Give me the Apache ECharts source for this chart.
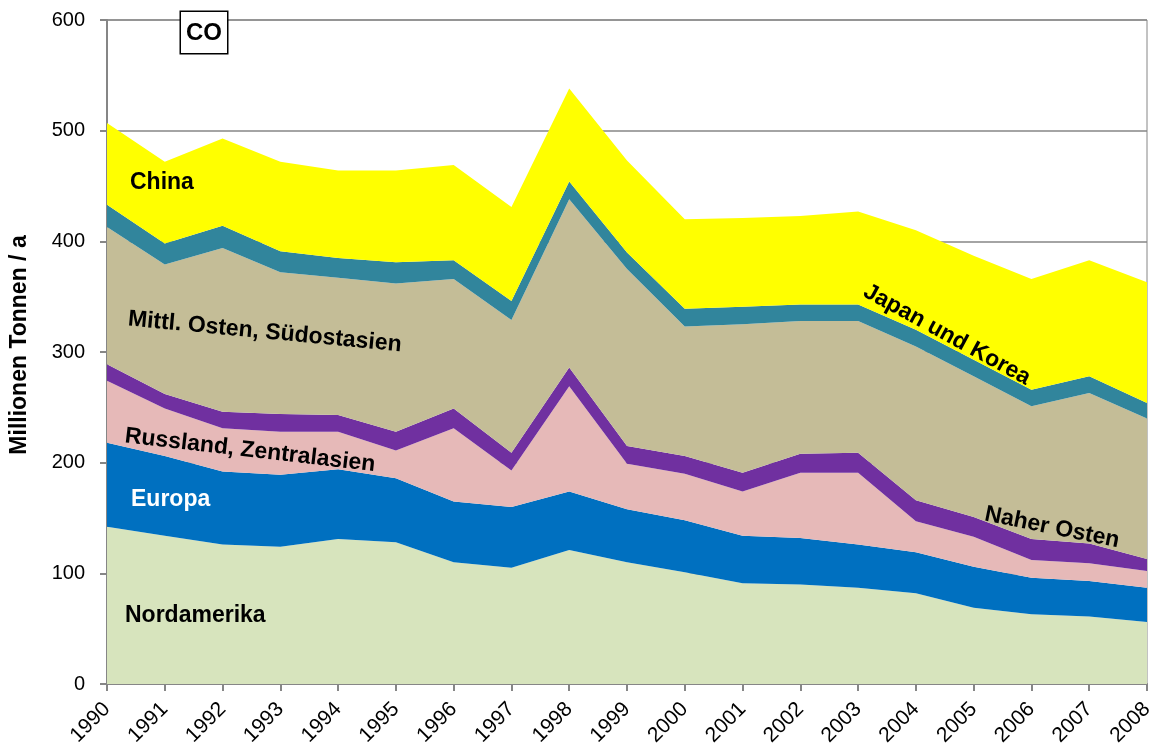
<!DOCTYPE html>
<html>
<head>
<meta charset="utf-8">
<script src="https://cdn.jsdelivr.net/npm/echarts@6/dist/echarts.min.js"></script>
<style>
  html, body { margin: 0; padding: 0; background: #fff; }
  #chart { width: 1152px; height: 749px; }
</style>
</head>
<body>
<div id="chart"></div>
<script>
// CO emissions by region, million tonnes per year
const years = ['1990', '1991', '1992', '1993', '1994', '1995', '1996', '1997', '1998', '1999',
  '2000', '2001', '2002', '2003', '2004', '2005', '2006', '2007', '2008'];
const nordamerika = [142, 134, 126, 124, 131, 128, 110, 105, 121, 110, 101, 91, 90, 87, 82, 69, 63, 61, 56];
const europa = [76, 72, 66, 65, 63, 58, 55, 55, 53, 48, 47, 43, 42, 39, 37, 37, 33, 32, 31];
const russland = [56, 43, 39, 39, 34, 25, 66, 33, 95, 41, 42, 40, 59, 65, 28, 27, 16, 16, 15];
const naherOsten = [15, 13, 15, 16, 15, 17, 18, 16, 17, 16, 16, 17, 17, 18, 19, 18, 19, 18, 11];
const mittlOsten = [124, 117, 148, 128, 124, 134, 117, 120, 152, 160, 117, 134, 120, 119, 139, 127, 120, 136, 127];
const japanKorea = [20, 19, 20, 19, 18, 19, 17, 17, 16, 15, 16, 16, 15, 15, 15, 15, 15, 15, 14];
const china = [74, 74, 79, 81, 79, 83, 86, 85, 84, 83, 81, 80, 80, 84, 90, 94, 100, 105, 109];
const yTicks = [0, 100, 200, 300, 400, 500, 600];

const font = '"Liberation Sans", Arial, sans-serif';
const chart = echarts.init(document.getElementById('chart'));

function layer(name, data, color) {
  return {
    name: name,
    type: 'line',
    stack: 'total',
    data: data,
    symbol: 'none',
    lineStyle: { width: 0 },
    areaStyle: { color: color, opacity: 1 },
    silent: true
  };
}

function label(text, x, y, rot, color, align) {
  return {
    type: 'text',
    x: x,
    y: y,
    rotation: rot,
    z: 100,
    style: {
      text: text,
      x: 0,
      y: 0,
      align: align || 'left',
      verticalAlign: 'middle',
      fill: color || '#000',
      font: 'bold 23px ' + font
    }
  };
}

const options = {
  animation: false,
  backgroundColor: '#fff',
  grid: {
    left: 107, right: 5, top: 20, bottom: 65,
    outerBoundsMode: 'none',
    containLabel: false,
    show: true, borderColor: '#868686', borderWidth: 1, backgroundColor: 'transparent'
  },
  xAxis: {
    type: 'category',
    data: years,
    boundaryGap: false,
    axisLine: { lineStyle: { color: '#868686', width: 2 } },
    axisTick: { show: true, length: 7, lineStyle: { color: '#868686', width: 2 } },
    axisLabel: { rotate: 45, fontSize: 21, color: '#000', fontFamily: font, margin: 22 },
    splitLine: { show: false }
  },
  yAxis: {
    type: 'value',
    min: yTicks[0],
    max: yTicks[yTicks.length - 1],
    interval: 100,
    axisLine: { show: true, lineStyle: { color: '#868686', width: 2 } },
    axisTick: { show: true, length: 7, lineStyle: { color: '#868686', width: 2 } },
    axisLabel: { fontSize: 20, color: '#000', fontFamily: font, margin: 22 },
    splitLine: { lineStyle: { color: '#868686', width: 1.5 } }
  },
  series: [
    layer('Nordamerika', nordamerika, '#D7E4BD'),
    layer('Europa', europa, '#0070C0'),
    layer('Russland, Zentralasien', russland, '#E6B9B8'),
    layer('Naher Osten', naherOsten, '#7030A0'),
    layer('Mittl. Osten, Südostasien', mittlOsten, '#C4BD97'),
    layer('Japan und Korea', japanKorea, '#31859C'),
    layer('China', china, '#FFFF00')
  ],
  graphic: [
    {
      type: 'text',
      x: 181,
      y: 12,
      z: 100,
      style: {
        text: 'CO',
        font: 'bold 24px ' + font,
        fill: '#000',
        backgroundColor: '#fff',
        borderColor: '#000',
        borderWidth: 1.5,
        padding: [9, 5, 8, 5]
      }
    },
    label('Millionen Tonnen / a', 20, 345, Math.PI / 2, '#000', 'center'),
    label('China', 130, 183, 0),
    label('Mittl. Osten, Südostasien', 128, 319, -0.095),
    label('Russland, Zentralasien', 125, 436, -0.115),
    label('Europa', 131, 500, 0, '#fff'),
    label('Nordamerika', 125, 616, 0),
    label('Japan und Korea', 865, 290, -0.50),
    label('Naher Osten', 985, 514, -0.20)
  ]
};

chart.setOption(options);
</script>
</body>
</html>
